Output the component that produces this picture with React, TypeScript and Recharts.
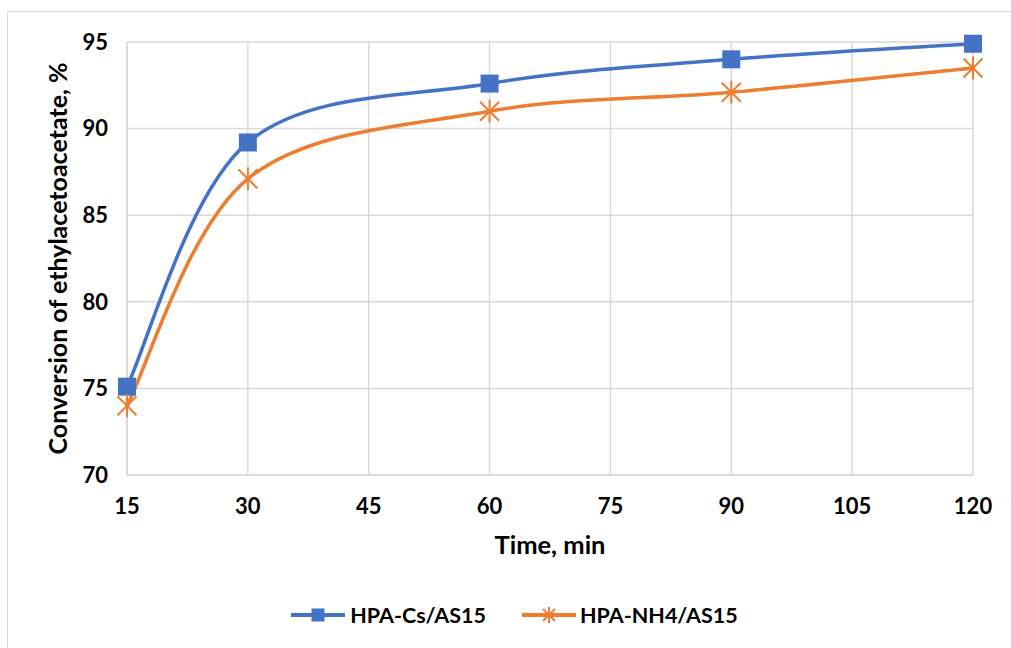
import React from 'react';
import { LineChart, Line, XAxis, YAxis, CartesianGrid, Legend } from 'recharts';

// Reaction time (min) and conversion (%) for the two catalysts
const times = [15, 30, 60, 90, 120];
const cesiumSeries = [75.1, 89.2, 92.6, 94.0, 94.9];
const ammoniumSeries = [74.0, 87.1, 91.0, 92.1, 93.5];
const xTicks = [15, 30, 45, 60, 75, 90, 105, 120];
const yTicks = [70, 75, 80, 85, 90, 95];

const seriesNames = ['HPA-Cs/AS15', 'HPA-NH4/AS15'];
const BLUE = '#4472C4';
const ORANGE = '#ED7D31';
const GRID = '#d9d9d9';
const FONT = 'Lato, "Open Sans", sans-serif';

const data = times.map((t, i) => ({
  time: t,
  cs: cesiumSeries[i],
  nh4: ammoniumSeries[i],
}));

// Spreadsheet-style smoothed line: Catmull-Rom segments drawn as cubic Béziers
function smoothCurve(context: any) {
  let pts: [number, number][] = [];
  return {
    areaStart() {},
    areaEnd() {},
    lineStart() {
      pts = [];
    },
    point(x: number, y: number) {
      pts.push([+x, +y]);
    },
    lineEnd() {
      if (!pts.length) return;
      context.moveTo(pts[0][0], pts[0][1]);
      for (let i = 0; i < pts.length - 1; i++) {
        const p0 = pts[i - 1] || pts[i];
        const p1 = pts[i];
        const p2 = pts[i + 1];
        const p3 = pts[i + 2] || p2;
        context.bezierCurveTo(
          p1[0] + (p2[0] - p0[0]) / 6,
          p1[1] + (p2[1] - p0[1]) / 6,
          p2[0] - (p3[0] - p1[0]) / 6,
          p2[1] - (p3[1] - p1[1]) / 6,
          p2[0],
          p2[1]
        );
      }
    },
  };
}

const SquareDot = (props: any) => {
  const { cx, cy } = props;
  if (cx == null || cy == null) return null;
  const s = 18;
  return <rect x={cx - s / 2} y={cy - s / 2} width={s} height={s} fill={BLUE} />;
};

const StarDot = (props: any) => {
  const { cx, cy } = props;
  if (cx == null || cy == null) return null;
  const h = 9.5;
  return (
    <g stroke={ORANGE} strokeWidth={2}>
      <line x1={cx - h} y1={cy - h} x2={cx + h} y2={cy + h} />
      <line x1={cx - h} y1={cy + h} x2={cx + h} y2={cy - h} />
      <line x1={cx} y1={cy - h - 2} x2={cx} y2={cy + h + 2} />
    </g>
  );
};

const LegendIcon = ({ kind }: { kind: 'square' | 'star' }) => (
  <svg width={54} height={20} style={{ display: 'block' }}>
    <line x1={0} y1={10} x2={54} y2={10} stroke={kind === 'square' ? BLUE : ORANGE} strokeWidth={4} />
    {kind === 'square' ? (
      <rect x={20.5} y={3.5} width={13} height={13} fill={BLUE} />
    ) : (
      <g stroke={ORANGE} strokeWidth={2}>
        <line x1={21} y1={4} x2={33} y2={16} />
        <line x1={21} y1={16} x2={33} y2={4} />
        <line x1={27} y1={2} x2={27} y2={18} />
      </g>
    )}
  </svg>
);

const renderLegend = () => (
  <div
    style={{
      display: 'flex',
      justifyContent: 'center',
      alignItems: 'center',
      fontFamily: FONT,
      fontWeight: 700,
      fontSize: 21.5,
      color: '#000',
      paddingLeft: 18,
    }}
  >
    <div style={{ display: 'flex', alignItems: 'center', marginRight: 36 }}>
      <LegendIcon kind="square" />
      <span style={{ marginLeft: 5 }}>{seriesNames[0]}</span>
    </div>
    <div style={{ display: 'flex', alignItems: 'center' }}>
      <LegendIcon kind="star" />
      <span style={{ marginLeft: 4 }}>{seriesNames[1]}</span>
    </div>
  </div>
);

const YTitle = (props: any) => {
  const vb = props.viewBox || {};
  const cy = vb.y + vb.height / 2;
  return (
    <text
      x={57}
      y={cy}
      transform={`rotate(-90, 57, ${cy})`}
      textAnchor="middle"
      dominantBaseline="central"
      fontFamily={FONT}
      fontWeight={700}
      fontSize={25}
      fill="#000"
    >
      Conversion of ethylacetoacetate, %
    </text>
  );
};

const XTitle = (props: any) => {
  const vb = props.viewBox || {};
  const cx = vb.x + vb.width / 2;
  return (
    <text
      x={cx}
      y={554}
      textAnchor="middle"
      fontFamily={FONT}
      fontWeight={700}
      fontSize={25.5}
      fill="#000"
    >
      Time, min
    </text>
  );
};

const tickStyle = { fontFamily: FONT, fontWeight: 700, fontSize: 22, fill: '#000' };

export default function App() {
  return (
    <div
      style={{
        position: 'fixed',
        left: 0,
        top: 0,
        width: 1011,
        height: 648,
        background: '#fff',
        overflow: 'hidden',
      }}
    >
      <div
        style={{
          position: 'absolute',
          left: 7,
          top: 11,
          width: 1100,
          height: 700,
          border: `1.5px solid ${GRID}`,
          boxSizing: 'border-box',
        }}
      />
      <div style={{ position: 'absolute', left: 0, top: 0 }}>
        <LineChart
          width={1011}
          height={648}
          data={data}
          margin={{ top: 42, right: 38, left: 0, bottom: 0 }}
        >
          <CartesianGrid stroke={GRID} strokeWidth={1.5} />
          <XAxis
            dataKey="time"
            type="number"
            domain={[15, 120]}
            ticks={xTicks}
            interval={0}
            height={173}
            tickLine={false}
            tickSize={0}
            tickMargin={23}
            axisLine={{ stroke: GRID, strokeWidth: 1.5 }}
            tick={tickStyle}
            label={<XTitle />}
          />
          <YAxis
            type="number"
            domain={[70, 95]}
            ticks={yTicks}
            interval={0}
            width={127}
            tickLine={false}
            tickSize={0}
            tickMargin={19}
            axisLine={{ stroke: GRID, strokeWidth: 1.5 }}
            tick={tickStyle}
            label={<YTitle />}
          />
          <Legend
            layout="horizontal"
            verticalAlign="middle"
            align="center"
            content={renderLegend}
            wrapperStyle={{ top: 602, left: 0, width: 1011 }}
          />
          <Line
            name={seriesNames[0]}
            dataKey="cs"
            type={smoothCurve as any}
            stroke={BLUE}
            strokeWidth={3.5}
            dot={<SquareDot />}
            activeDot={false}
            isAnimationActive={false}
          />
          <Line
            name={seriesNames[1]}
            dataKey="nh4"
            type={smoothCurve as any}
            stroke={ORANGE}
            strokeWidth={3.5}
            dot={<StarDot />}
            activeDot={false}
            isAnimationActive={false}
          />
        </LineChart>
      </div>
    </div>
  );
}
